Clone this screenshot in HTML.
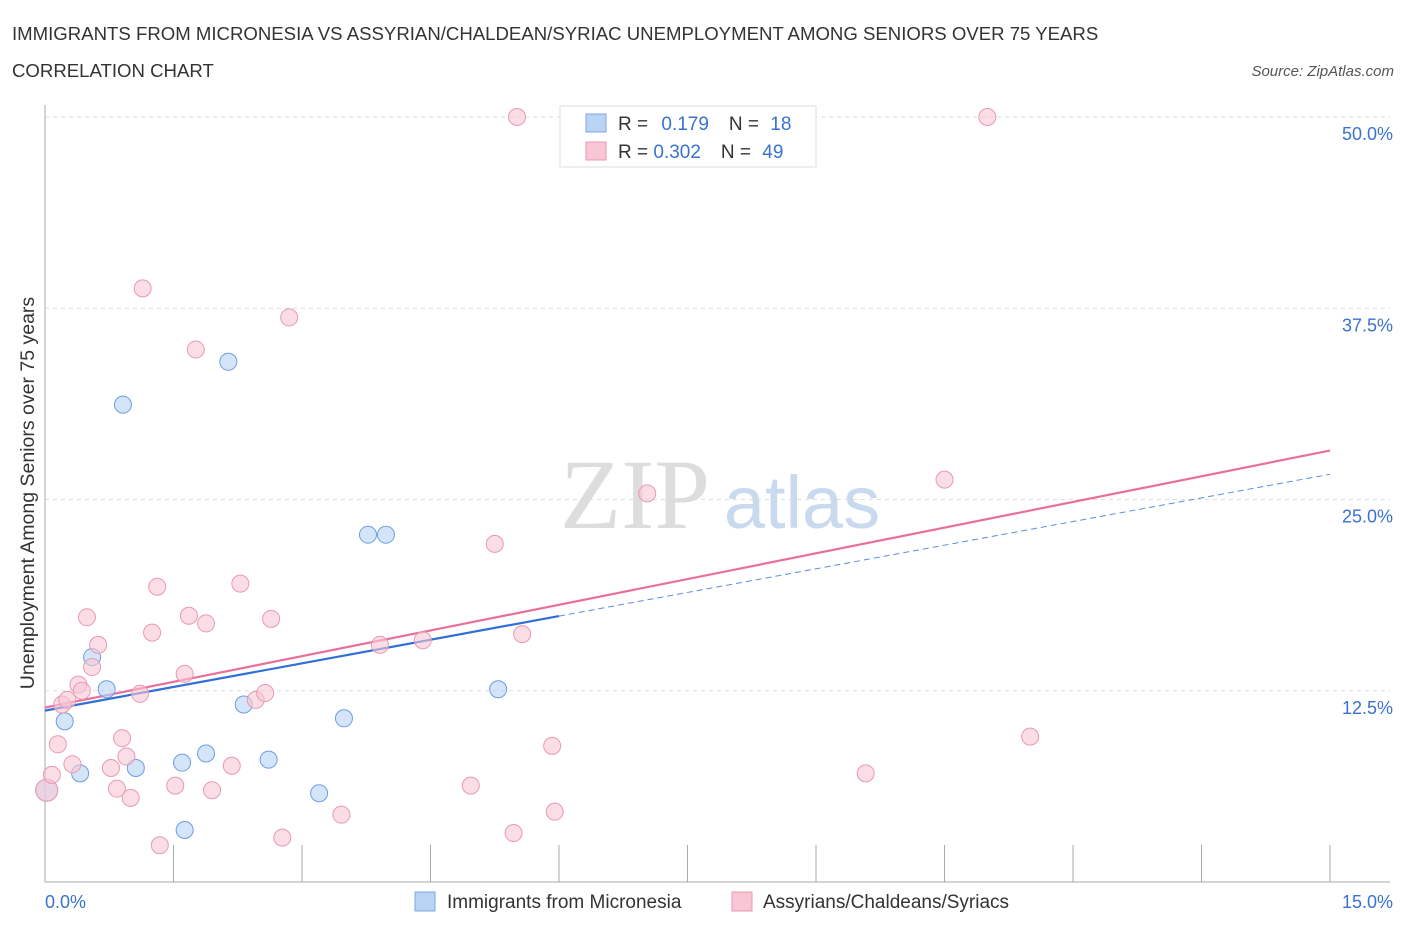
<!DOCTYPE html>
<html><head><meta charset="utf-8"><style>
body{margin:0;background:#fff;font-family:"Liberation Sans",sans-serif;}
svg text{font-family:"Liberation Sans",sans-serif;}
</style></head><body>
<svg id="chart" width="1406" height="930" xmlns="http://www.w3.org/2000/svg">
<text x="12" y="40" font-size="18.6" fill="#333">IMMIGRANTS FROM MICRONESIA VS ASSYRIAN/CHALDEAN/SYRIAC UNEMPLOYMENT AMONG SENIORS OVER 75 YEARS</text>
<text x="12" y="77" font-size="18.6" fill="#333">CORRELATION CHART</text>
<text x="1394" y="76" font-size="15" fill="#555" text-anchor="end" font-style="italic">Source: ZipAtlas.com</text>
<g>
<text x="635" y="528" font-size="100" fill="#ddd" text-anchor="middle" style="font-family:'Liberation Serif',serif">ZIP</text>
<text x="802" y="528" font-size="74" fill="#c9d9ee" text-anchor="middle">atlas</text>
</g>
<g id="grid"></g>
<g id="axes"></g>
<g id="lines"></g>
<g id="points"></g>
<text transform="translate(34,493) rotate(-90)" font-size="19.5" fill="#333" text-anchor="middle">Unemployment Among Seniors over 75 years</text>
<g>
<rect x="560" y="106" width="256" height="61" fill="#fff" stroke="#ddd"/>
<rect x="586" y="114" width="20" height="18" fill="#b9d3f5" stroke="#7aa7e0"/>
<rect x="586" y="142" width="20" height="18" fill="#f9c6d4" stroke="#e89ab2"/>
<text x="618" y="130" font-size="19" fill="#333">R = <tspan fill="#3a72d0" dx="8">0.179</tspan><tspan dx="20" fill="#333">N = </tspan><tspan fill="#3a72d0" dx="6">18</tspan></text>
<text x="618" y="158" font-size="19" fill="#333">R = <tspan fill="#3a72d0">0.302</tspan><tspan dx="20" fill="#333">N = </tspan><tspan fill="#3a72d0" dx="6">49</tspan></text>
</g>
<g>
<rect x="415" y="892" width="20" height="19" fill="#b9d3f5" stroke="#7aa7e0"/>
<text x="447" y="908" font-size="19" fill="#333">Immigrants from Micronesia</text>
<rect x="732" y="892" width="20" height="19" fill="#f9c6d4" stroke="#e89ab2"/>
<text x="763" y="908" font-size="19" fill="#333">Assyrians/Chaldeans/Syriacs</text>
</g>
</svg>
<script>
const blueX=[0.02,0.23,0.41,0.55,0.72,0.91,1.06,1.6,1.63,1.88,2.14,2.32,2.61,3.2,3.49,3.77,3.98,5.29];
const blueY=[6.0,10.5,7.1,14.7,12.6,31.2,7.45,7.8,3.4,8.4,34.0,11.6,8.0,5.8,10.7,22.7,22.7,12.6];
const pinkX=[0.02,0.08,0.15,0.2,0.26,0.32,0.39,0.43,0.49,0.55,0.62,0.77,0.84,0.9,0.95,1.0,1.11,1.14,1.25,1.31,1.34,1.52,1.63,1.68,1.76,1.88,1.95,2.18,2.28,2.46,2.57,2.64,2.77,2.85,3.46,3.91,4.41,4.97,5.25,5.47,5.51,5.57,5.92,5.95,7.03,9.58,10.5,11.0,11.5];
const pinkY=[6.0,7.0,9.0,11.6,11.9,7.7,12.9,12.5,17.3,14.05,15.5,7.45,6.1,9.4,8.2,5.5,12.3,38.8,16.3,19.3,2.4,6.3,13.6,17.4,34.8,16.9,6.0,7.6,19.5,11.9,12.35,17.2,2.9,36.9,4.4,15.5,15.8,6.3,22.1,3.2,50.0,16.2,8.9,4.6,25.4,7.1,26.3,50.0,9.5];
const yTicks=[12.5,25.0,37.5,50.0];
const yTickLabels=["12.5%","25.0%","37.5%","50.0%"];
const xTickVals=[0,1.5,3,4.5,6,7.5,9,10.5,12,13.5,15];
const blueTrend=[11.2,1.03]; // intercept, slope
const pinkTrend=[11.4,1.12];
const X0=45,X1=1330,Y0=882,YPX=15.3;
const sx=v=>X0+(X1-X0)*v/15;
const sy=v=>Y0-v*YPX;
const NS="http://www.w3.org/2000/svg";
function mk(p,t,a){const e=document.createElementNS(NS,t);for(const k in a)e.setAttribute(k,a[k]);document.getElementById(p).appendChild(e);return e;}
yTicks.forEach((v,i)=>{
 const l=mk('grid','line',{x1:X0,x2:X1+60,y1:sy(v),y2:sy(v),stroke:'#ddd','stroke-dasharray':'4,4'});
 
 
 const t=mk('grid','text',{x:1393,y:sy(v)+23,'font-size':18,fill:'#3a72d0','text-anchor':'end'});
 t.textContent=yTickLabels[i];
 
 
});
const ax=mk('axes','line',{x1:X0,x2:X0,y1:105,y2:Y0,stroke:'#aaa'});


const bx=mk('axes','line',{x1:X0,x2:X1+60,y1:Y0,y2:Y0,stroke:'#aaa'});


xTickVals.forEach(v=>{
 const t=mk('axes','line',{x1:sx(v),x2:sx(v),y1:845,y2:Y0,stroke:'#aaa'});
 
 
});
const xl=mk('axes','text',{x:45,y:908,'font-size':18,fill:'#3a72d0'});xl.textContent='0.0%';


const xr=mk('axes','text',{x:1393,y:908,'font-size':18,fill:'#3a72d0','text-anchor':'end'});xr.textContent='15.0%';


function pts(xs,ys,fill,stroke,name){xs.forEach((x,i)=>{
 const c=mk('points','circle',{cx:sx(x),cy:sy(ys[i]),r:i===0?11:8.5,fill:fill,'fill-opacity':0.6,stroke:stroke,'stroke-width':1});
 
 
});}
pts(blueX,blueY,'#b9d3f5','#6d9de0','point-micronesia');
pts(pinkX,pinkY,'#f9c6d4','#e89ab2','point-assyrian');
const tb=v=>blueTrend[0]+blueTrend[1]*v, tp=v=>pinkTrend[0]+pinkTrend[1]*v;
let l1=mk('lines','line',{x1:sx(0),y1:sy(tp(0)),x2:sx(15),y2:sy(tp(15)),stroke:'#e8709a','stroke-width':2.2});


const bmax=Math.max(...blueX)+0.71;
let l2=mk('lines','line',{x1:sx(0),y1:sy(tb(0)),x2:sx(bmax),y2:sy(tb(bmax)),stroke:'#2f6fd6','stroke-width':2.2});


let l3=mk('lines','line',{x1:sx(bmax),y1:sy(tb(bmax)),x2:sx(15),y2:sy(tb(15)),stroke:'#5a8fdc','stroke-width':1,'stroke-dasharray':'6,4'});


</script>
</body></html>
